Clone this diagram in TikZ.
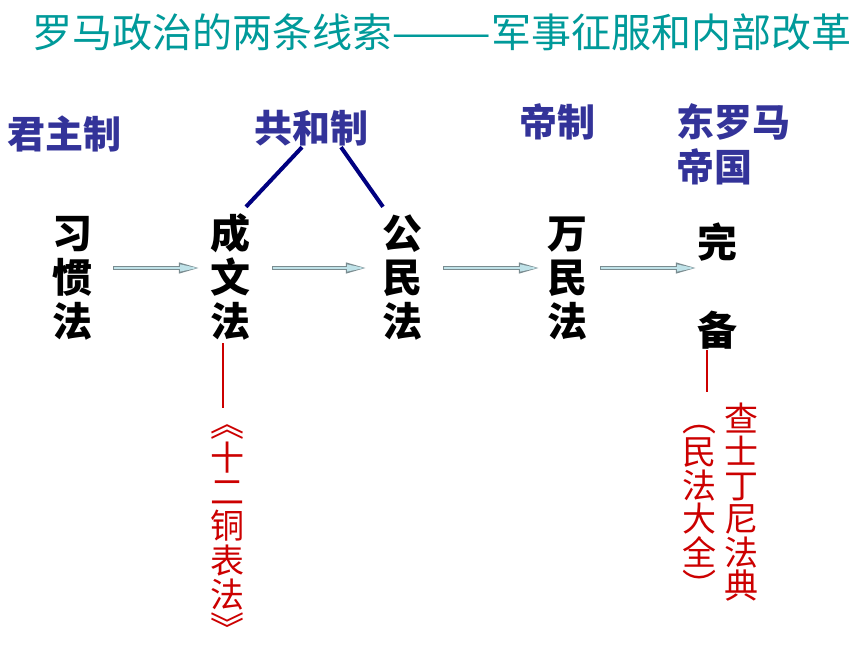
\documentclass[tikz,border=0pt]{standalone}
\usepackage{fontspec}
\newfontfamily\cjk{Noto Sans CJK SC}
\usetikzlibrary{arrows.meta}
\definecolor{titleteal}{HTML}{009A9A}
\definecolor{sysblue}{HTML}{333399}
\definecolor{linknavy}{HTML}{000080}
\definecolor{lawred}{HTML}{CC0000}
\definecolor{arrowfill}{HTML}{BFE2E8}
\definecolor{arrowedge}{HTML}{7A8C90}

\begin{document}
\begin{tikzpicture}[x=1pt,y=-1pt]
	\tikzstyle{every node} = [inner sep=0pt]
	\tikzstyle{title} = [text=titleteal, text height=35.2pt, text depth=4.8pt, font=\cjk\fontsize{40pt}{40pt}\selectfont]
	\tikzstyle{system} = [text=sysblue, text height=33.4pt, text depth=4.6pt, font=\cjk\bfseries\fontsize{38pt}{38pt}\selectfont]
	\tikzstyle{lawchar} = [text=black, text height=35.2pt, text depth=4.8pt, font=\cjk\bfseries\fontsize{40pt}{40pt}\selectfont]
	\tikzstyle{redchar} = [text=lawred, text height=24pt, text depth=0pt, font=\cjk\fontsize{34pt}{34pt}\selectfont]
	\tikzstyle{flow} = [draw=arrowedge, line width=4pt, -{Triangle[length=21pt,width=10pt]}, postaction={draw=arrowfill, line width=2.2pt, -{Triangle[length=18pt,width=6.5pt]}, shorten >=1.6pt, shorten <=1pt}]
	\tikzstyle{link} = [draw=linknavy, line width=4pt]
	\tikzstyle{redline} = [draw=lawred, line width=2pt]
	\fill[white] (0,0) rectangle (860,645);
	\useasboundingbox (0,0) rectangle (860,645);

	\node[title] (title) at (442,32) {罗马政治的两条线索———军事征服和内部改革};
	\node[system] (jz) at (65,134) {君主制}; \node[system] (gh) at (311,128) {共和制}; \node[system] (dz) at (557,122) {帝制};
	\node[system, anchor=west] (dl1) at (676,122) {东罗马}; \node[system, anchor=west] (dl2) at (676,167) {帝国};

	\foreach \c [count=\i] in {习,惯,法} \node[lawchar] (xg\i) at (72,189+44*\i) {\c};
	\foreach \c [count=\i] in {成,文,法} \node[lawchar] (cw\i) at (230,189+44*\i) {\c};
	\foreach \c [count=\i] in {公,民,法} \node[lawchar] (gm\i) at (402,189+44*\i) {\c};
	\foreach \c [count=\i] in {万,民,法} \node[lawchar] (wm\i) at (567,189+44*\i) {\c};
	\node[lawchar] (wb1) at (717,242) {完}; \node[lawchar] (wb2) at (717,330) {备};

	\foreach \c [count=\i] in {︽,十,二,铜,表,法,︾} \node[redchar] (sb\i) at (227,389.7+34.3*\i) {\c};
	\foreach \c [count=\i] in {查,士,丁,尼,法,典} \node[redchar] (zd\i) at (741,385.5+33.5*\i) {\c};
	\foreach \c [count=\i] in {︵,民,法,大,全,︶} \node[redchar] (mf\i) at (699,385.5+33.5*\i) {\c};
	\coordinate (zdend) at (707,392);

	\draw[flow] ([xshift=21pt,yshift=9pt]xg2.east) -- ([xshift=-10pt,yshift=9pt]cw2.west); \draw[flow] ([xshift=22pt,yshift=9pt]cw2.east) -- ([xshift=-15pt,yshift=9pt]gm2.west); \draw[flow] ([xshift=21pt,yshift=9pt]gm2.east) -- ([xshift=-7pt,yshift=9pt]wm2.west); \draw[flow] ([xshift=13pt,yshift=9pt]wm2.east) -- ([yshift=9pt]wm2.east -| wb1.west);

	\draw[link] ([xshift=-9pt]gh.south) -- ([xshift=16pt,yshift=6pt]cw1.north); \draw[link] ([xshift=30pt]gh.south) -- ([xshift=-19pt,yshift=6pt]gm1.north);
	\draw[redline] ([xshift=-7pt,yshift=-2pt]cw3.south) -- ([xshift=-4pt,yshift=4pt]sb1.north); \draw[redline] ([xshift=-10pt]wb2.south) -- (zdend);
\end{tikzpicture}
\end{document}
